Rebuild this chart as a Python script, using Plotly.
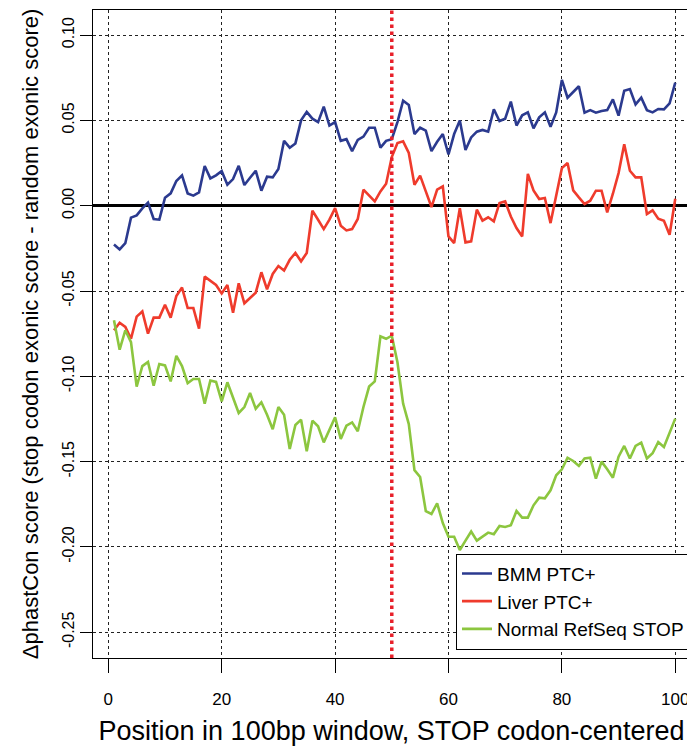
import plotly.graph_objects as go

positions = list(range(1, 101))

bmm_ptc = [-0.0227, -0.0256, -0.022, -0.007, -0.0057, -0.0016, 0.0018, -0.0078, -0.0082, 0.0047,
           0.0072, 0.0145, 0.0178, 0.0072, 0.0059, 0.0078, 0.0233, 0.016, 0.0178, 0.0203,
           0.0123, 0.0156, 0.0234, 0.0121, 0.0164, 0.0205, 0.0088, 0.017, 0.0166, 0.0215,
           0.038, 0.034, 0.0365, 0.050, 0.055, 0.051, 0.049, 0.058, 0.047, 0.049,
           0.038, 0.039, 0.032, 0.0385, 0.0405, 0.0457, 0.0457, 0.034, 0.038, 0.039,
           0.049, 0.0615, 0.059, 0.042, 0.0457, 0.044, 0.032, 0.0375, 0.042, 0.030,
           0.042, 0.050, 0.0326, 0.040, 0.0434, 0.0444, 0.0434, 0.0565, 0.0496, 0.051,
           0.061, 0.047, 0.053, 0.0547, 0.0453, 0.0518, 0.0547, 0.0463, 0.0547, 0.0737,
           0.0633, 0.0664, 0.070, 0.0545, 0.056, 0.0545, 0.0555, 0.056, 0.0623, 0.0528,
           0.0674, 0.0684, 0.0594, 0.0633, 0.056, 0.0547, 0.0567, 0.0565, 0.060, 0.0721]

liver_ptc = [-0.073, -0.0686, -0.071, -0.078, -0.065, -0.062, -0.075, -0.0656, -0.0656, -0.058,
             -0.0656, -0.053, -0.048, -0.060, -0.060, -0.072, -0.0416, -0.044, -0.0465, -0.0514,
             -0.0465, -0.0627, -0.0455, -0.0572, -0.054, -0.051, -0.039, -0.049, -0.040, -0.0354,
             -0.038, -0.0317, -0.0277, -0.0326, -0.0277, -0.0029, -0.0082, -0.0137, -0.0082, -0.0014,
             -0.0117, -0.0145, -0.0137, -0.0078, 0.0094, 0.0059, 0.0025, 0.0084, 0.0129, 0.0285,
             0.0367, 0.0377, 0.0309, 0.0123, 0.0176, 0.0084, -0.0008, 0.0094, 0.0113, -0.018,
             -0.0219, -0.0014, -0.0215, -0.0209, -0.0023, -0.0088, -0.0068, -0.0092, 0.0016, 0.0025,
             -0.0063, -0.0131, -0.018, 0.0186, 0.009, 0.0039, 0.0045, -0.0102, 0.005, 0.022,
             0.025, 0.009, 0.0049, 0.001, 0.0029, 0.0088, 0.0088, -0.0039, 0.007, 0.0191,
             0.036, 0.0205, 0.0166, 0.0166, -0.0049, -0.0027, -0.0076, -0.0088, -0.017, 0.0041]

normal_refseq_stop = [-0.0672, -0.0844, -0.073, -0.080, -0.106, -0.094, -0.0916, -0.1055, -0.0928, -0.0936,
                      -0.103, -0.088, -0.094, -0.104, -0.1016, -0.1016, -0.116, -0.1025, -0.1033, -0.1147,
                      -0.1035, -0.1123, -0.1215, -0.118, -0.1098, -0.119, -0.1152, -0.1225, -0.131, -0.118,
                      -0.1225, -0.1426, -0.1285, -0.1254, -0.144, -0.126, -0.1293, -0.1387, -0.1314, -0.124,
                      -0.1367, -0.1289, -0.127, -0.1322, -0.118, -0.106, -0.103, -0.0766, -0.078, -0.0762,
                      -0.0918, -0.116, -0.128, -0.155, -0.159, -0.179, -0.1807, -0.1744, -0.186, -0.194,
                      -0.194, -0.2018, -0.1963, -0.191, -0.1963, -0.1938, -0.1916, -0.1926, -0.1877, -0.1883,
                      -0.1873, -0.1789, -0.1828, -0.1828, -0.1756, -0.1711, -0.1715, -0.1668, -0.158, -0.1545,
                      -0.1477, -0.1496, -0.1525, -0.1482, -0.1477, -0.16, -0.15, -0.1545, -0.1594, -0.1471,
                      -0.1408, -0.1482, -0.1408, -0.1389, -0.1482, -0.1451, -0.1385, -0.1414, -0.1336, -0.1248]

series_names = ["BMM PTC+", "Liver PTC+", "Normal RefSeq STOP"]
series_colors = ["#2B3A8F", "#EF3B2C", "#8CC63F"]

x_tick_vals = [0, 20, 40, 60, 80, 100]
y_tick_vals = [0.10, 0.05, 0.00, -0.05, -0.10, -0.15, -0.20, -0.25]
y_tick_text = ["0.10", "0.05", "0.00", "-0.05", "-0.10", "-0.15", "-0.20", "-0.25"]
stop_position = 50

FONT = "Liberation Sans, Arial, Helvetica, sans-serif"

fig = go.Figure()
for name, vals, col in zip(series_names, [bmm_ptc, liver_ptc, normal_refseq_stop], series_colors):
    fig.add_trace(go.Scatter(x=positions, y=vals, mode="lines", name=name,
                             line=dict(color=col, width=2.6)))

fig.add_shape(type="line", xref="x", yref="paper", x0=stop_position, x1=stop_position,
              y0=0, y1=1, line=dict(color="#E8202A", width=3.5, dash="dot"), layer="above")

# the page body has an 8px margin, so the figure is drawn 8px smaller
fig.update_layout(
    width=687, height=747,
    margin=dict(l=85, r=5, t=2, b=97),
    plot_bgcolor="white", paper_bgcolor="white",
    font=dict(family=FONT, color="black", size=16),
    showlegend=True,
    legend=dict(x=1, y=0.013, xanchor="right", yanchor="bottom",
                bgcolor="white", bordercolor="black", borderwidth=1,
                font=dict(size=19, family=FONT), tracegroupgap=0),
)

fig.update_xaxes(
    range=[-2.7, 102.6], tickvals=x_tick_vals, ticks="outside", ticklen=14, tickwidth=1,
    tickcolor="black", showline=True, linecolor="black", linewidth=1, mirror=True,
    showgrid=True, gridcolor="#222", griddash="3px,3px", gridwidth=1, zeroline=False,
    tickfont=dict(size=17), ticklabelstandoff=12,
    title=dict(text="Position in 100bp window, STOP codon-centered", font=dict(size=27), standoff=12),
    automargin=False,
)
fig.update_yaxes(
    range=[-0.2651, 0.1147], tickvals=y_tick_vals, ticktext=y_tick_text, tickangle=-90,
    ticks="outside", ticklen=12, tickwidth=1, tickcolor="black",
    showline=True, linecolor="black", linewidth=1, mirror=True,
    showgrid=True, gridcolor="#222", griddash="3px,3px", gridwidth=1,
    zeroline=True, zerolinecolor="black", zerolinewidth=2.5,
    tickfont=dict(size=16),
    title=dict(text="\u0394phastCon score (stop codon exonic score - random exonic score)",
               font=dict(size=22), standoff=14),
    automargin=False,
)

fig.write_html("out.html")
